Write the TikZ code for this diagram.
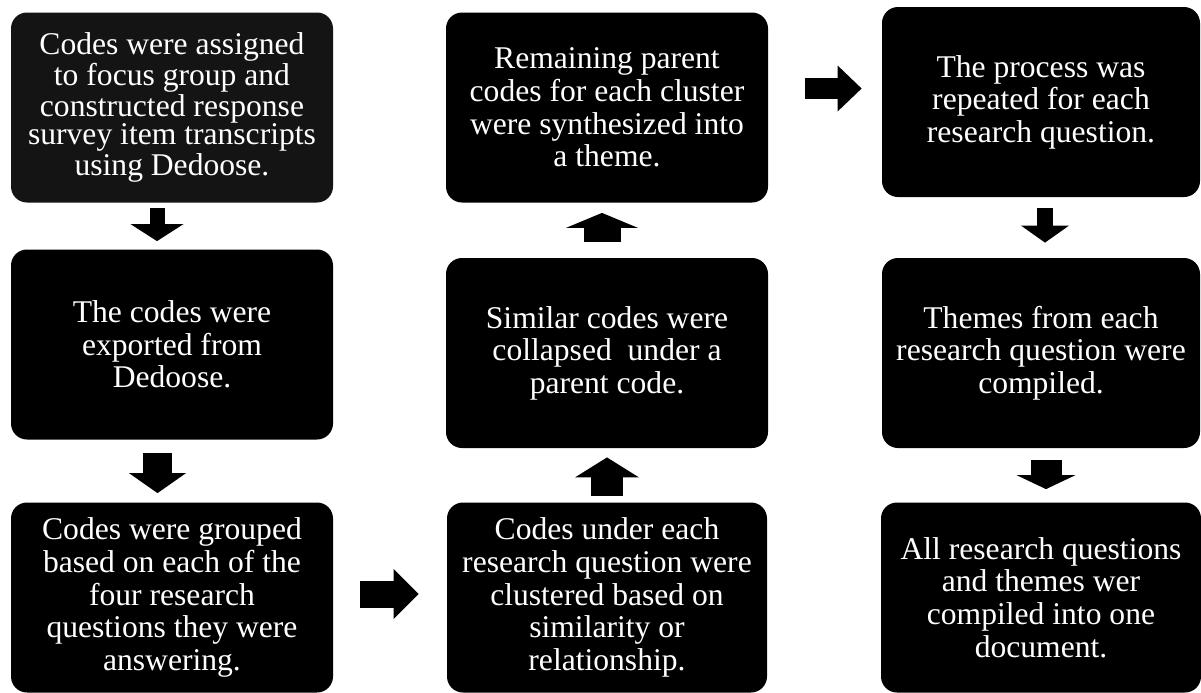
\documentclass[tikz,border=0pt]{standalone}
\usepackage{fontspec}
\setmainfont{Liberation Serif}
\usetikzlibrary{arrows.meta}
\tikzset{
  stepbox/.style={fill=black, text=white, rounded corners=8pt, minimum width=161pt, minimum height=95pt,
                  inner sep=0pt, align=center, font=\fontsize{15.8pt}{16.3pt}\selectfont},
  blockarrow/.style n args={3}{line width=#1, -{Triangle[width=#2, length=#3, line width=0pt]}}
}
\begin{document}
\begin{tikzpicture}[x=0.5pt, y=-0.5pt]
            \fill [white] (0,0) rectangle (1201,692);
            \useasboundingbox (0,0) rectangle (1201,692);
            \node [stepbox, fill=black!92, font=\fontsize{15.8pt}{14.1pt}\selectfont] (assigned) at (172,107.5)
                  {Codes were assigned\\to focus group and\\constructed response\\survey item transcripts\\using Dedoose.};
            \node [stepbox] (exported) at (172,344.5) {The codes were\\exported from\\Dedoose.};
            \node [stepbox] (grouped) at (172,597.5) {Codes were grouped\\based on each of the\\four research\\questions they were\\answering.};
            \node [stepbox, minimum width=160pt] (clustered) at (607,597.5)
                  {Codes under each\\research question were\\clustered based on\\similarity or\\relationship.};
            \node [stepbox] (collapsed) at (607,353) {Similar codes were\\collapsed\ \ under a\\parent code.};
            \node [stepbox] (synthesized) at (607,107.5) {Remaining parent\\codes for each cluster\\were synthesized into\\a theme.};
            \node [stepbox, minimum width=159pt] (repeated) at (1041,102) {The process was\\repeated for each\\research question.};
            \node [stepbox, minimum width=159pt] (themes) at (1041,353) {Themes from each\\research question were\\compiled.};
            \node [stepbox, minimum width=160pt] (document) at (1041,597.5)
                  {All research questions\\and themes wer\\compiled into one\\document.};
            \draw [blockarrow={7.5pt}{26.5pt}{8.5pt}, shorten <=2.5pt, shorten >=4pt]
                  ([xshift=-7.5pt]assigned.south) -- ([xshift=-7.5pt]exported.north);
            \draw [blockarrow={14.5pt}{28.5pt}{10pt}, shorten <=6.5pt, shorten >=4.5pt]
                  ([xshift=-7.25pt]exported.south) -- ([xshift=-7.25pt]grouped.north);
            \draw [blockarrow={13.5pt}{25pt}{12.5pt}, shorten <=13.5pt, shorten >=14pt]
                  ([yshift=1.75pt]grouped.east) -- ([yshift=1.75pt]clustered.west);
            \draw [blockarrow={16pt}{32pt}{10pt}, shorten <=3pt, shorten >=4.5pt]
                  (clustered.north) -- (collapsed.south);
            \draw [blockarrow={18.5pt}{36pt}{7.5pt}, shorten <=8pt, shorten >=5pt]
                  ([xshift=-2.5pt]collapsed.north) -- ([xshift=-2.5pt]synthesized.south);
            \draw [blockarrow={10.5pt}{23pt}{12pt}, shorten <=18.5pt, shorten >=10pt]
                  ([yshift=9.5pt]synthesized.east) -- ([yshift=6.75pt]repeated.west);
            \draw [blockarrow={8pt}{24pt}{8.5pt}, shorten <=5.5pt, shorten >=7.5pt]
                  ([xshift=2pt]repeated.south) -- ([xshift=2pt]themes.north);
            \draw [blockarrow={15.5pt}{29.5pt}{7pt}, shorten <=6pt, shorten >=6.5pt]
                  ([xshift=2.5pt]themes.south) -- ([xshift=2.5pt]document.north);
\end{tikzpicture}
\end{document}
